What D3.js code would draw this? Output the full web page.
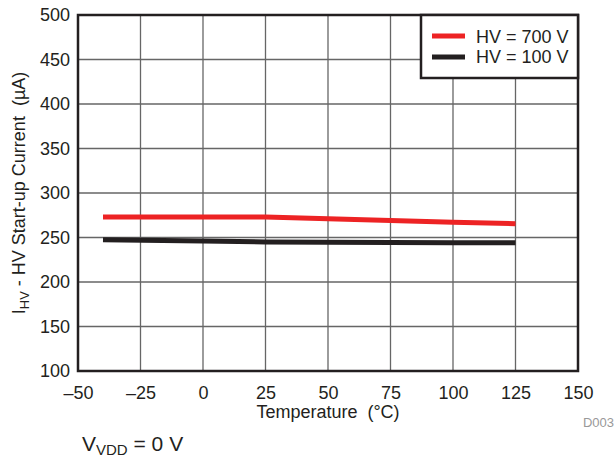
<!DOCTYPE html>
<html>
<head>
<meta charset="utf-8">
<script src="https://cdn.jsdelivr.net/npm/d3@7"></script>
<style>
  body { margin: 0; background: #fff; }
  text { font-family: "Liberation Sans", Arial, sans-serif; fill: #231f20; }
</style>
</head>
<body>
<div id="chart"></div>
<script>
const width = 614;
const height = 461;

// temperature (°C) vs start-up current (µA)
const temps700 = [-40, -25, 0, 25, 50, 75, 100, 125];
const current700 = [273, 273, 273, 273, 271, 269, 267, 265.5];
const temps100 = [-40, 0, 25, 50, 75, 100, 125];
const current100 = [247.5, 246, 245, 244.8, 244.5, 244.2, 244];
const xTicks = [-50, -25, 0, 25, 50, 75, 100, 125, 150];
const yTicks = [100, 150, 200, 250, 300, 350, 400, 450, 500];
const seriesNames = ['HV = 700 V', 'HV = 100 V'];
const seriesColors = ['#ed2324', '#231f20'];

const margin = { left: 78, top: 15, right: 36, bottom: 90 };
const plotW = width - margin.left - margin.right;
const plotH = height - margin.top - margin.bottom;
const fontFamily = '"Liberation Sans", Arial, sans-serif';

const svg = d3.select('#chart').append('svg')
    .attr('width', width)
    .attr('height', height);

const x = d3.scaleLinear().domain([-50, 150]).range([0, plotW]);
const y = d3.scaleLinear().domain([100, 500]).range([plotH, 0]);

const g = svg.append('g')
    .attr('transform', `translate(${margin.left},${margin.top})`);

// grid
g.append('g')
    .selectAll('line')
    .data(xTicks.slice(1, -1))
    .enter().append('line')
    .attr('x1', d => x(d)).attr('x2', d => x(d))
    .attr('y1', 0).attr('y2', plotH)
    .attr('stroke', '#666').attr('stroke-width', 1.3);
g.append('g')
    .selectAll('line')
    .data(yTicks.slice(1, -1))
    .enter().append('line')
    .attr('x1', 0).attr('x2', plotW)
    .attr('y1', d => y(d)).attr('y2', d => y(d))
    .attr('stroke', '#666').attr('stroke-width', 1.3);

// tick labels via d3 axes
const xAxis = g.append('g')
    .attr('transform', `translate(0,${plotH})`)
    .call(d3.axisBottom(x).tickValues(xTicks).tickSize(0).tickPadding(15)
        .tickFormat(d => d < 0 ? '\u2013' + Math.abs(d) : d));
xAxis.select('.domain').remove();
xAxis.selectAll('text').attr('font-size', 18).style('font-family', fontFamily).attr('fill', '#231f20');

const yAxis = g.append('g')
    .call(d3.axisLeft(y).tickValues(yTicks).tickSize(0).tickPadding(8));
yAxis.select('.domain').remove();
yAxis.selectAll('text').attr('font-size', 18).style('font-family', fontFamily).attr('fill', '#231f20');

// series
const line = d3.line().x(d => x(d[0])).y(d => y(d[1]));
const series = [
    d3.zip(temps700, current700),
    d3.zip(temps100, current100)
];
series.forEach((s, i) => {
    g.append('path')
        .datum(s)
        .attr('d', line)
        .attr('fill', 'none')
        .attr('stroke', seriesColors[i])
        .attr('stroke-width', 5);
});

// frame
g.append('rect')
    .attr('width', plotW).attr('height', plotH)
    .attr('fill', 'none').attr('stroke', '#231f20').attr('stroke-width', 2.5);

// legend
const lg = g.append('g').attr('transform', `translate(${plotW - 157},0)`);
lg.append('rect')
    .attr('width', 157).attr('height', 63)
    .attr('fill', '#fff').attr('stroke', '#231f20').attr('stroke-width', 2.5);
seriesNames.forEach((name, i) => {
    lg.append('line')
        .attr('x1', 11).attr('x2', 44)
        .attr('y1', 21 + i * 21).attr('y2', 21 + i * 21)
        .attr('stroke', seriesColors[i]).attr('stroke-width', 5);
    lg.append('text')
        .attr('x', 55).attr('y', 28 + i * 20)
        .attr('font-size', 18)
        .text(name);
});

// axis titles
svg.append('text')
    .attr('x', margin.left + x(50))
    .attr('y', 418)
    .attr('text-anchor', 'middle')
    .attr('font-size', 18)
    .text('Temperature \u00A0(\u00B0C)');

const yt = svg.append('text')
    .attr('transform', `translate(25,${margin.top + plotH / 2}) rotate(-90)`)
    .attr('text-anchor', 'middle')
    .attr('font-size', 18);
yt.append('tspan').text('I');
yt.append('tspan').attr('font-size', 13).attr('dy', 4).text('HV');
yt.append('tspan').attr('dy', -4).text('\u00A0- HV Start-up Current \u00A0(\u00B5A)');

svg.append('text')
    .attr('x', 614).attr('y', 427)
    .attr('text-anchor', 'end')
    .attr('font-size', 13)
    .style('fill', '#999')
    .text('D003');

const vt = svg.append('text')
    .attr('x', 82).attr('y', 451)
    .attr('font-size', 21);
vt.append('tspan').text('V');
vt.append('tspan').attr('font-size', 15).attr('dy', 4).text('VDD');
vt.append('tspan').attr('dy', -4).text(' = 0 V');
</script>
</body>
</html>
